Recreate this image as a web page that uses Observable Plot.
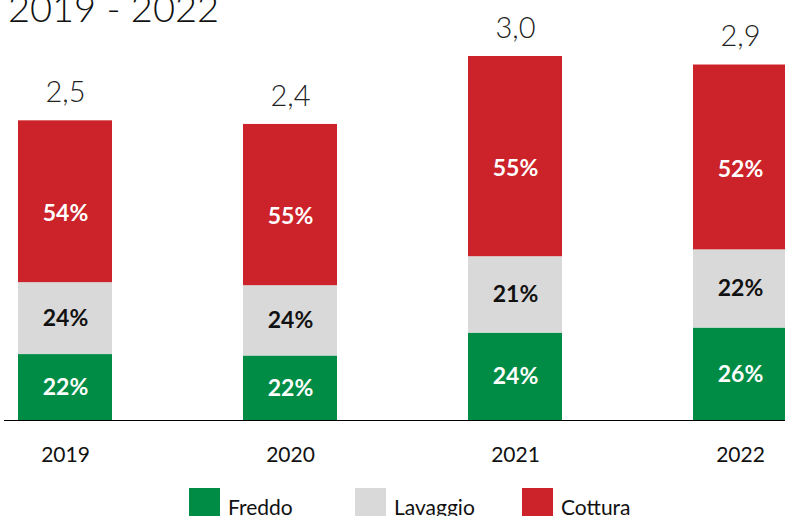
<!DOCTYPE html>
<html>
<head>
<meta charset="utf-8">
<script src="https://cdn.jsdelivr.net/npm/d3@7"></script>
<script src="https://cdn.jsdelivr.net/npm/@observablehq/plot@0.6"></script>
<style>
  html, body { margin: 0; padding: 0; background: #fff; }
  body { width: 785px; height: 516px; overflow: hidden; position: relative; font-family: Lato, "Open Sans", sans-serif; }
  #title { position: absolute; left: 8px; top: -12px; font-size: 38px; line-height: 38px; font-weight: 300; color: #111; white-space: nowrap; }
  #chart { position: absolute; left: 0; top: 0; }
  .leg { position: absolute; top: 488px; display: flex; align-items: flex-start; }
  .sw { width: 31px; height: 31px; }
  .lt { font-size: 21px; line-height: 21px; margin-left: 8px; margin-top: 8px; color: #111; }
</style>
</head>
<body>
<div id="title">2019 - 2022</div>
<div id="chart"></div>
<div id="legend"></div>
<script>
const years = ["2019", "2020", "2021", "2022"];
const totals = [2.47, 2.44, 3.0, 2.93];
const categories = ["Freddo", "Lavaggio", "Cottura"];
const freddo = [22, 22, 24, 26];
const lavaggio = [24, 24, 21, 22];
const cottura = [54, 55, 55, 52];
const colors = ["#008C45", "#D9D9D9", "#CC2229"];

const shares = {Freddo: freddo, Lavaggio: lavaggio, Cottura: cottura};
const rows = [];
years.forEach((y, i) => {
  const sum = freddo[i] + lavaggio[i] + cottura[i];
  categories.forEach(c => {
    rows.push({year: y, category: c, pct: shares[c][i], value: totals[i] * shares[c][i] / sum});
  });
});
const totalRows = years.map((y, i) => ({year: y, total: totals[i]}));
const fmt = v => v.toFixed(1).replace(".", ",");

const chart = Plot.plot({
  width: 785,
  height: 470,
  marginTop: 0,
  marginBottom: 50,
  marginLeft: 0,
  marginRight: 0,
  style: {fontFamily: "Lato, 'Open Sans', sans-serif", overflow: "visible"},
  x: {domain: years, range: [18, 787], paddingInner: 0.5822, paddingOuter: 0, round: false, axis: null},
  y: {domain: [0, 420 / 121.33], axis: null},
  color: {domain: categories, range: colors},
  marks: [
    Plot.barY(rows, Plot.stackY({x: "year", y: "value", fill: "category"})),
    Plot.text(rows, Plot.stackY({
      x: "year", y: "value",
      text: d => d.category === "Cottura" ? null : d.pct + "%",
      fill: d => d.category === "Lavaggio" ? "#111111" : "#ffffff",
      fontSize: 23, fontWeight: 700
    })),
    Plot.text(rows, Plot.stackY({
      x: "year", y: "value",
      text: d => d.category === "Cottura" ? d.pct + "%" : null,
      fill: "#ffffff",
      dy: 12,
      fontSize: 23, fontWeight: 700
    })),
    Plot.text(totalRows, {x: "year", y: "total", text: d => fmt(d.total), dy: -28, fontSize: 29, fontWeight: 300, fill: "#222"}),
    Plot.text(years, {x: d => d, y: () => 0, text: d => d, dy: 35, fontSize: 21, fill: "#111"}),
    Plot.ruleY([0], {stroke: "#000", strokeWidth: 1.2, insetLeft: 4})
  ]
});
document.getElementById("chart").appendChild(chart);

const legendLefts = [189, 355, 522];
const legend = document.getElementById("legend");
categories.forEach((c, i) => {
  const item = document.createElement("div");
  item.className = "leg";
  item.style.left = legendLefts[i] + "px";
  item.innerHTML = `<div class="sw" style="background:${colors[i]}"></div><div class="lt">${c}</div>`;
  legend.appendChild(item);
});
</script>
</body>
</html>
